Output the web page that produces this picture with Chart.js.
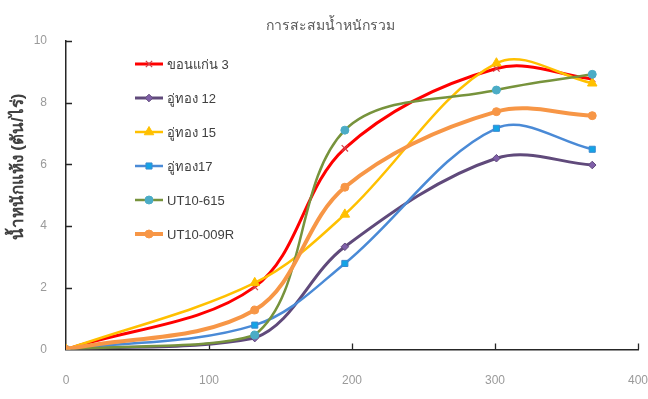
<!DOCTYPE html>
<html>
<head>
<meta charset="utf-8">
<script src="https://cdn.jsdelivr.net/npm/chart.js@4/dist/chart.umd.min.js"></script>
<style>
  html, body { margin: 0; padding: 0; background: #ffffff; }
  #wrap { width: 648px; height: 399px; position: relative; }
</style>
</head>
<body>
<div id="wrap"><canvas id="c" width="648" height="399"></canvas></div>
<script>
// Days after planting
const days = [0, 132, 195, 301, 368];

// Accumulated dry weight (ton/rai) for each variety
const khonKaen3 = [0, 2.03, 6.52, 9.11, 8.77];
const uThong12  = [0, 0.37, 3.33, 6.20, 5.98];
const uThong15  = [0, 2.16, 4.38, 9.28, 8.63];
const uThong17  = [0, 0.79, 2.79, 7.17, 6.49];
const ut10_615  = [0, 0.47, 7.11, 8.41, 8.92];
const ut10_009R = [0, 1.28, 5.26, 7.71, 7.58];

const seriesNames = ['ขอนแก่น 3', 'อู่ทอง 12', 'อู่ทอง 15', 'อู่ทอง17', 'UT10-615', 'UT10-009R'];
const seriesValues = [khonKaen3, uThong12, uThong15, uThong17, ut10_615, ut10_009R];

const xTicks = [0, 100, 200, 300, 400];
const yTicks = [0, 2, 4, 6, 8, 10];

const chartTitle = 'การสะสมน้ำหนักรวม';
const yAxisTitle = 'น้ำหนักแห้ง (ตัน/ไร่)';

const styles = [
  { line: '#ff0000', fill: '#ff0000', border: '#d0404a', shape: 'crossRot', r: 4.5, w: 3 },
  { line: '#604a7b', fill: '#7f5fa8', border: '#604a7b', shape: 'rectRot', r: 3.8, w: 3 },
  { line: '#ffc000', fill: '#ffc000', border: '#ffc000', shape: 'triangle', r: 5.5, w: 2.5 },
  { line: '#4a8ad6', fill: '#14a4e6', border: '#3a8ad0', shape: 'rect', r: 4.3, w: 2.5 },
  { line: '#77933c', fill: '#4bacc6', border: '#4bacc6', shape: 'circle', r: 4, w: 2.5 },
  { line: '#f79646', fill: '#f79646', border: '#f79646', shape: 'circle', r: 4, w: 4 }
];

const datasets = seriesNames.map((name, i) => ({
  label: name,
  data: days.map((d, k) => ({ x: d, y: seriesValues[i][k] })),
  borderColor: styles[i].line,
  borderWidth: styles[i].w,
  pointStyle: styles[i].shape,
  pointRadius: styles[i].r,
  pointBackgroundColor: styles[i].fill,
  pointBorderColor: styles[i].border,
  pointBorderWidth: styles[i].shape === 'crossRot' ? 1.2 : 1,
  showLine: true,
  tension: 0.35,
  fill: false,
  order: seriesNames.length - i
}));

const tickFont = { family: "'Liberation Sans Narrow', 'Liberation Sans', Arial, sans-serif", size: 12 };

// Short inward tick marks on both axes
const axisTicks = {
  id: 'axisTicks',
  beforeDatasetsDraw(chart) {
    const { ctx, scales: { x, y } } = chart;
    ctx.save();
    ctx.strokeStyle = '#262626';
    ctx.lineWidth = 1.3;
    ctx.beginPath();
    xTicks.forEach(v => {
      if (v === 0) return;
      const px = Math.round(x.getPixelForValue(v)) + 0.5;
      ctx.moveTo(px, y.bottom);
      ctx.lineTo(px, y.bottom - 6);
    });
    yTicks.forEach(v => {
      if (v === 0) return;
      const py = Math.round(y.getPixelForValue(v)) + 0.5;
      ctx.moveTo(x.left, py);
      ctx.lineTo(x.left + 6, py);
    });
    ctx.stroke();
    ctx.restore();
  }
};

// Chart title and rotated value-axis title
const titles = {
  id: 'titles',
  afterDraw(chart) {
    const ctx = chart.ctx;
    ctx.save();
    ctx.fillStyle = '#595959';
    ctx.font = "14px 'Liberation Sans Narrow', 'Liberation Sans', Arial, sans-serif";
    ctx.textAlign = 'center';
    ctx.textBaseline = 'middle';
    ctx.fillText(chartTitle, 330, 26);

    ctx.translate(18, 167);
    ctx.rotate(-Math.PI / 2);
    ctx.fillStyle = '#404040';
    ctx.font = "bold 17px 'Liberation Sans', Arial, sans-serif";
    ctx.fillText(yAxisTitle, 0, 0);
    ctx.restore();
  }
};

// Legend drawn inside the plot, upper left
const insideLegend = {
  id: 'insideLegend',
  afterDraw(chart) {
    const ctx = chart.ctx;
    const x0 = 135, x1 = 163, y0 = 64, gap = 34;
    ctx.save();
    chart.data.datasets.forEach((ds, i) => {
      const yy = y0 + i * gap;
      ctx.strokeStyle = ds.borderColor;
      ctx.lineWidth = ds.borderWidth;
      ctx.beginPath();
      ctx.moveTo(x0, yy);
      ctx.lineTo(x1, yy);
      ctx.stroke();
      ctx.fillStyle = ds.pointBackgroundColor;
      ctx.strokeStyle = ds.pointBorderColor;
      ctx.lineWidth = ds.pointBorderWidth;
      Chart.helpers.drawPoint(ctx, {
        pointStyle: ds.pointStyle,
        radius: ds.pointRadius,
        rotation: 0,
        borderWidth: ds.pointBorderWidth
      }, (x0 + x1) / 2, yy);
      ctx.fillStyle = '#404040';
      ctx.font = "13px 'Liberation Sans Narrow', 'Liberation Sans', Arial, sans-serif";
      ctx.textBaseline = 'middle';
      ctx.textAlign = 'left';
      ctx.fillText(ds.label, x1 + 4, yy + 1);
    });
    ctx.restore();
  }
};

new Chart(document.getElementById('c'), {
  type: 'scatter',
  data: { datasets },
  options: {
    responsive: false,
    animation: false,
    layout: { padding: { left: 0, right: 10, top: 41, bottom: 0 } },
    plugins: {
      legend: { display: false },
      tooltip: { enabled: false },
      title: { display: false }
    },
    scales: {
      x: {
        type: 'linear',
        min: 0,
        max: 400,
        afterBuildTicks(scale) { scale.ticks = xTicks.map(v => ({ value: v })); },
        afterFit(scale) { scale.height = 49.5; scale.paddingRight = 0; scale.paddingLeft = 0; },
        ticks: { color: '#9a9a9a', font: tickFont, padding: 24, maxRotation: 0 },
        grid: { display: false, drawTicks: false },
        border: { display: true, color: '#262626', width: 1.5 }
      },
      y: {
        type: 'linear',
        min: 0,
        max: 10,
        afterBuildTicks(scale) { scale.ticks = yTicks.map(v => ({ value: v })); },
        afterFit(scale) { scale.width = 66; scale.paddingTop = 0; },
        ticks: { color: '#9a9a9a', font: tickFont, padding: 19 },
        grid: { display: false, drawTicks: false },
        border: { display: true, color: '#262626', width: 1.5 }
      }
    }
  },
  plugins: [axisTicks, titles, insideLegend]
});
</script>
</body>
</html>
